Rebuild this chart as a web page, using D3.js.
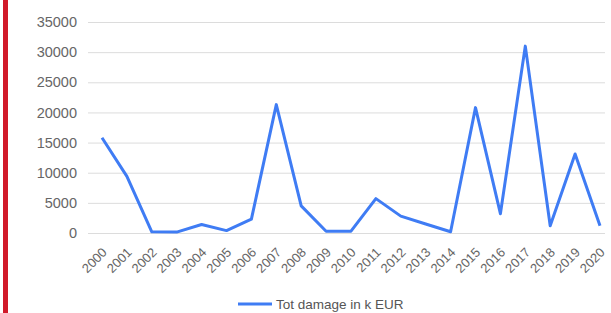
<!DOCTYPE html>
<html>
<head>
<meta charset="utf-8">
<script src="https://cdn.jsdelivr.net/npm/d3@7"></script>
<style>
  body { margin: 0; background: #fff; }
  svg { display: block; font-family: "Liberation Sans", Arial, sans-serif; }
</style>
</head>
<body>
<script>
let years = [2000, 2001, 2002, 2003, 2004, 2005, 2006, 2007, 2008, 2009, 2010,
             2011, 2012, 2013, 2014, 2015, 2016, 2017, 2018, 2019, 2020];
let damage = [15800, 9400, 200, 150, 1400, 400, 2300, 21300, 4500, 300, 300,
              5700, 2800, 1500, 200, 20800, 3200, 31000, 1200, 13100, 1200];
let yTicks = [0, 5000, 10000, 15000, 20000, 25000, 30000, 35000];
let seriesName = "Tot damage in k EUR";

let width = 611;
let height = 313;
let marginTop = 22;
let marginRight = 11;
let marginLeft = 102;

let svg = d3.select("body").append("svg")
    .attr("width", width)
    .attr("height", height)
    .attr("viewBox", [0, 0, width, height]);

// red bar on the left edge
svg.append("rect")
    .attr("x", 3).attr("y", 0)
    .attr("width", 5).attr("height", height)
    .attr("fill", "#d11a2a");

let x = d3.scalePoint()
    .domain(years)
    .range([marginLeft, width - marginRight]);

let y = d3.scaleLinear()
    .domain([0, 35000])
    .range([233, marginTop]);

// horizontal grid + y labels
svg.append("g")
    .attr("transform", `translate(88,0)`)
    .call(d3.axisLeft(y).tickValues(yTicks).tickFormat(d3.format("d")).tickSize(0).tickPadding(11))
    .call(g => g.select(".domain").remove())
    .call(g => g.selectAll(".tick line").clone()
        .attr("x2", width - 88 - 6)
        .attr("stroke", "#dcdcdc"))
    .call(g => g.selectAll("text")
        .attr("fill", "#666")
        .style("font-size", "14.5px"));

// x labels, rotated
svg.append("g")
    .attr("transform", `translate(0,${y(0)})`)
    .call(d3.axisBottom(x).tickSize(0).tickFormat(d3.format("d")))
    .call(g => g.select(".domain").remove())
    .call(g => g.selectAll("text")
        .attr("fill", "#666")
        .style("font-size", "13px")
        .attr("text-anchor", "end")
        .attr("x", 0).attr("y", 0).attr("dy", "0.35em")
        .attr("transform", "translate(2,17) rotate(-45)"));

let line = d3.line()
    .x((d, i) => x(years[i]))
    .y(d => y(d));

svg.append("path")
    .datum(damage)
    .attr("fill", "none")
    .attr("stroke", "#3f7cf4")
    .attr("stroke-width", 3)
    .attr("stroke-linejoin", "round")
    .attr("d", line);

// legend
let legend = svg.append("g").attr("transform", "translate(238,304)");
legend.append("line")
    .attr("x1", 0).attr("x2", 34)
    .attr("stroke", "#3f7cf4")
    .attr("stroke-width", 3);
legend.append("text")
    .attr("x", 38).attr("y", 4.5)
    .attr("fill", "#555")
    .style("font-size", "13.5px")
    .text(seriesName);
</script>
</body>
</html>
